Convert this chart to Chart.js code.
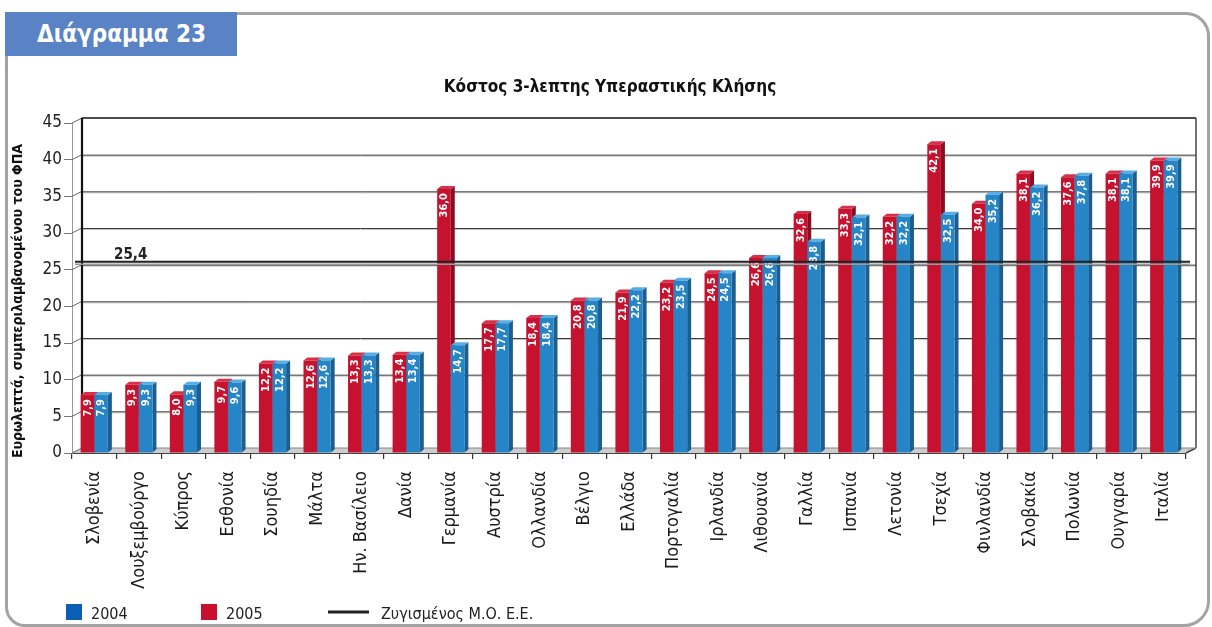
<!DOCTYPE html>
<html><head><meta charset="utf-8">
<script src="https://cdn.jsdelivr.net/npm/chart.js@4"></script>
<style>
html,body{margin:0;padding:0;background:#fff;width:1212px;height:627px;overflow:hidden;}
#frame{position:absolute;left:5px;top:12px;width:1205px;height:615px;border:3px solid #a3a3a3;border-radius:0 24px 26px 20px;box-sizing:border-box;}
#tab{position:absolute;left:5px;top:12px;width:232px;height:44px;background:#5983C4;color:#fff;font:bold 24px 'DejaVu Sans Condensed',sans-serif;line-height:44px;padding-left:32px;box-sizing:border-box;}
#c{position:absolute;left:0;top:0;}
</style></head><body>
<div id="frame"></div><div id="tab">Διάγραμμα 23</div>
<canvas id="c" width="1212" height="627"></canvas>
<script>
const categories = ['Σλοβενία','Λουξεμβούργο','Κύπρος','Εσθονία','Σουηδία','Μάλτα','Ην. Βασίλειο','Δανία','Γερμανία','Αυστρία','Ολλανδία','Βέλγιο','Ελλάδα','Πορτογαλία','Ιρλανδία','Λιθουανία','Γαλλία','Ισπανία','Λετονία','Τσεχία','Φινλανδία','Σλοβακία','Πολωνία','Ουγγαρία','Ιταλία'];
const values2005 = [7.9,9.3,8.0,9.7,12.2,12.6,13.3,13.4,36.0,17.7,18.4,20.8,21.9,23.2,24.5,26.6,32.6,33.3,32.2,42.1,34.0,38.1,37.6,38.1,39.9];
const values2004 = [7.9,9.3,9.3,9.6,12.2,12.6,13.3,13.4,14.7,17.7,18.4,20.8,22.2,23.5,24.5,26.6,28.8,32.1,32.2,32.5,35.2,36.2,37.8,38.1,39.9];
const euAverage = 25.4;
const euAverageLabel = '25,4';
const legendLabels = ['2004','2005','Ζυγισμένος Μ.Ο. Ε.Ε.'];
const chartTitle = 'Κόστος 3-λεπτης Υπεραστικής Κλήσης';
const yTitle = 'Ευρωλεπτά, συμπεριλαμβανομένου του ΦΠΑ';
const yMin = 0, yMax = 45, yStep = 5;

const NARROW = "'DejaVu Sans Condensed',sans-serif";
const RED = '#C4122F', RED_TOP = '#D9304A', RED_SIDE = '#8C0C20';
const BLUE = '#2585C7', BLUE_TOP = '#56AEE3', BLUE_SIDE = '#1B5E8F';
const DX = 10, DY = -5, BDX = 4, BDY = -3;

function seg(ctx,x1,y1,x2,y2){ctx.beginPath();ctx.moveTo(x1,y1);ctx.lineTo(x2,y2);ctx.stroke();}
function poly(ctx,pts,fill){ctx.beginPath();ctx.moveTo(pts[0][0],pts[0][1]);for(let i=1;i<pts.length;i++)ctx.lineTo(pts[i][0],pts[i][1]);ctx.closePath();ctx.fillStyle=fill;ctx.fill();}

const pseudo3d = {
  id:'pseudo3d',
  beforeDatasetsDraw(chart){
    const {ctx, chartArea:a, scales:{y}} = chart;
    ctx.save();
    poly(ctx,[[a.left,a.bottom],[a.right,a.bottom],[a.right+DX,a.bottom+DY],[a.left+DX,a.bottom+DY]],'#cdcdcd');
    y.ticks.forEach(t=>{
      const py = y.getPixelForValue(t.value);
      if (t.value>yMin && t.value<yMax){
        ctx.lineWidth=1; ctx.strokeStyle='#c4c4c4';
        seg(ctx,a.left+DX,py+DY+1.5,a.right+DX,py+DY+1.5);
        ctx.strokeStyle='#3c3c3c';
        seg(ctx,a.left+DX,py+DY+0.5,a.right+DX,py+DY+0.5);
      }
      ctx.lineWidth=1; ctx.strokeStyle='#666';
      seg(ctx,a.left,py,a.left+DX,py+DY);
    });
    const yt = y.getPixelForValue(yMax), yb = y.getPixelForValue(yMin);
    ctx.strokeStyle='#111'; ctx.lineWidth=1.5;
    seg(ctx,a.left+DX,yt+DY,a.right+DX,yt+DY);
    ctx.lineWidth=2.2;
    seg(ctx,a.left+DX,yt+DY,a.left+DX,yb+DY);
    ctx.lineWidth=1.5; ctx.strokeStyle='#444';
    seg(ctx,a.right+DX,yt+DY,a.right+DX,yb+DY);
    seg(ctx,a.right,yb,a.right+DX,yb+DY);
    ctx.strokeStyle='#888'; ctx.lineWidth=1;
    seg(ctx,a.left+DX,yb+DY,a.right+DX,yb+DY);
    chart.data.datasets.forEach((ds,i)=>{
      const meta = chart.getDatasetMeta(i);
      meta.data.forEach(el=>{
        const p = el.getProps(['x','y','base','width'],true);
        const l = p.x-p.width/2, r = p.x+p.width/2;
        poly(ctx,[[r,p.y],[r+BDX,p.y+BDY],[r+BDX,p.base+BDY],[r,p.base]],ds.sideColor);
        poly(ctx,[[l,p.y],[l+BDX,p.y+BDY],[r+BDX,p.y+BDY],[r,p.y]],ds.topColor);
      });
    });
    ctx.restore();
  },
  afterDatasetsDraw(chart){
    const {ctx, chartArea:a, scales:{y}} = chart;
    ctx.save();
    ctx.fillStyle='#fff';
    ctx.font='bold 11px '+NARROW;
    ctx.textAlign='right'; ctx.textBaseline='middle';
    chart.data.datasets.forEach((ds,i)=>{
      chart.getDatasetMeta(i).data.forEach((el,j)=>{
        const p = el.getProps(['x','y'],true);
        ctx.save(); ctx.translate(p.x+0.5,p.y+4); ctx.rotate(-Math.PI/2);
        ctx.fillText(ds.data[j].toFixed(1).replace('.',','),0,0);
        ctx.restore();
      });
    });
    const py = y.getPixelForValue(euAverage)+DY;
    ctx.strokeStyle='#9a9a9a'; ctx.lineWidth=1.5;
    seg(ctx,a.left+3,py+2.5,a.right+4,py+2.5);
    ctx.strokeStyle='#222'; ctx.lineWidth=2;
    seg(ctx,a.left+3,py,a.right+4,py);
    ctx.fillStyle='#222'; ctx.font='bold 15px '+NARROW;
    ctx.textAlign='left'; ctx.textBaseline='alphabetic';
    ctx.fillText(euAverageLabel,a.left+42,py-3);
    ctx.restore();
  },
  afterDraw(chart){
    const ctx = chart.ctx;
    ctx.save();
    // chart title
    ctx.fillStyle='#111'; ctx.font='bold 17px '+NARROW;
    ctx.textAlign='center'; ctx.textBaseline='middle';
    ctx.fillText(chartTitle,610,88);
    // y axis title
    ctx.save(); ctx.translate(18,301); ctx.rotate(-Math.PI/2);
    ctx.font='bold 14px '+NARROW; ctx.fillText(yTitle,0,0); ctx.restore();
    // legend
    ctx.font='16px '+NARROW; ctx.textBaseline='alphabetic'; ctx.textAlign='left';
    ctx.fillStyle='#0B5FB4'; ctx.fillRect(66,604,16,16);
    ctx.fillStyle='#222'; ctx.fillText(legendLabels[0],91,619);
    ctx.fillStyle='#C8102E'; ctx.fillRect(201,604,16,16);
    ctx.fillStyle='#222'; ctx.fillText(legendLabels[1],226,619);
    ctx.strokeStyle='#222'; ctx.lineWidth=3; seg(ctx,328,612,369,612);
    ctx.fillText(legendLabels[2],381,619);
    ctx.restore();
  }
};

new Chart(document.getElementById('c'),{
  type:'bar',
  data:{
    labels:categories,
    datasets:[
      {label:'2005',data:values2005,backgroundColor:RED,topColor:RED_TOP,sideColor:RED_SIDE,borderWidth:0,categoryPercentage:0.61,barPercentage:1},
      {label:'2004',data:values2004,backgroundColor:BLUE,topColor:BLUE_TOP,sideColor:BLUE_SIDE,borderWidth:0,categoryPercentage:0.61,barPercentage:1}
    ]
  },
  options:{
    responsive:false, animation:false,
    layout:{padding:{left:0,right:26,top:123,bottom:0}},
    plugins:{ legend:{display:false}, tooltip:{enabled:false}, title:{display:false} },
    scales:{
      x:{
        ticks:{autoSkip:false,maxRotation:90,minRotation:90,color:'#1a1a1a',font:{family:NARROW,size:18},padding:12},
        grid:{drawOnChartArea:false,drawTicks:true,tickLength:6,offset:true,color:'#333',lineWidth:1.2},
        border:{display:true,color:'#444',width:1},
        afterFit(s){s.height=174;}
      },
      y:{
        min:yMin,max:yMax,
        ticks:{stepSize:yStep,color:'#222',font:{family:NARROW,size:17},padding:2},
        grid:{drawOnChartArea:false,drawTicks:true,tickLength:8,color:'#777'},
        border:{display:true,color:'#999',width:1},
        title:{display:false},
        afterFit(s){s.width=72;}
      }
    }
  },
  plugins:[pseudo3d]
});
</script>
</body></html>
